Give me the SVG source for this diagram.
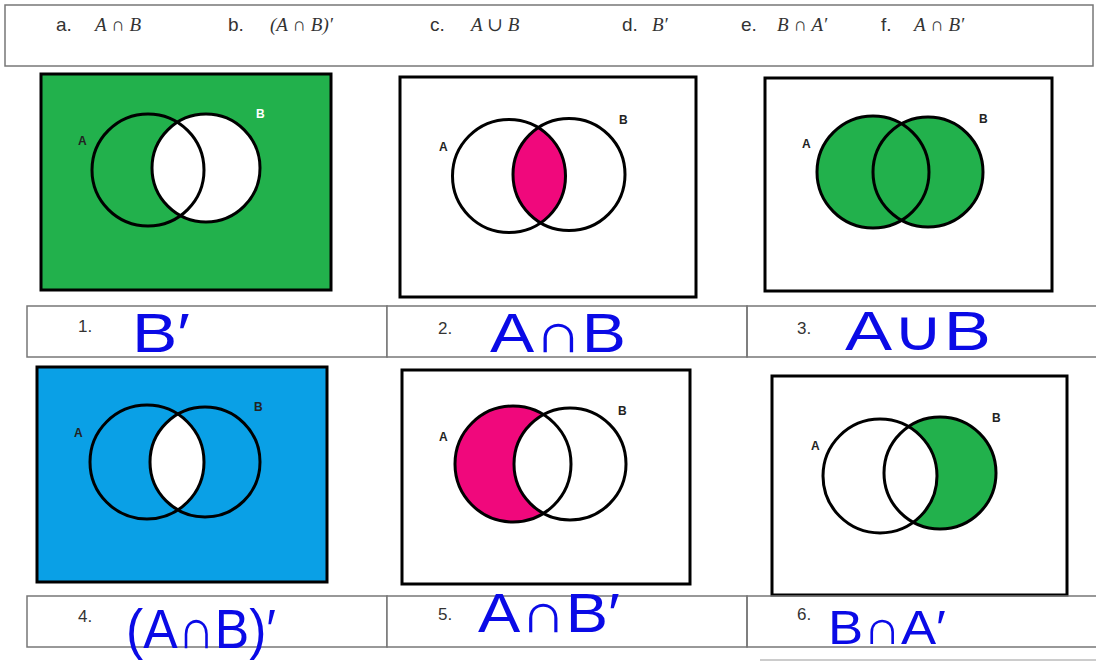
<svg xmlns="http://www.w3.org/2000/svg" width="1096" height="662" viewBox="0 0 1096 662">
<style>
.hdr{font-family:"Liberation Sans","DejaVu Sans",sans-serif;font-size:19px;fill:#333}
.math{font-family:"Liberation Serif","DejaVu Serif",serif;font-style:italic;font-size:19px;fill:#333}
.num{font-family:"Liberation Sans","DejaVu Sans",sans-serif;font-size:17px;fill:#333}
.hand{font-family:"Liberation Sans","DejaVu Sans",sans-serif;font-size:56px;fill:#0a0ae6}
.frame{fill:#fff;stroke:#000;stroke-width:3}
.ring{fill:none;stroke:#000;stroke-width:3}
.lbl{font-family:"Liberation Sans","DejaVu Sans",sans-serif;font-size:12px;font-weight:bold;fill:#222}
.cell{fill:#fff;stroke:#777;stroke-width:1.5}
</style>
<defs>
<clipPath id="cA2"><circle cx="509" cy="176" r="56.5"/></clipPath>
<clipPath id="cA4"><circle cx="147" cy="462" r="57"/></clipPath>
</defs>
<rect width="1096" height="662" fill="#fff"/>
<g id="header">
<rect x="5" y="5" width="1088" height="61" fill="#fff" stroke="#777" stroke-width="1.5"/>
<text class="hdr" x="56" y="31">a.</text><text class="math" x="95" y="31">A ∩ B</text>
<text class="hdr" x="228" y="31">b.</text><text class="math" x="270" y="31">(A ∩ B)′</text>
<text class="hdr" x="430" y="31">c.</text><text class="math" x="471" y="31">A ∪ B</text>
<text class="hdr" x="622" y="31">d.</text><text class="math" x="652" y="31">B′</text>
<text class="hdr" x="741" y="31">e.</text><text class="math" x="777" y="31">B ∩ A′</text>
<text class="hdr" x="881" y="31">f.</text><text class="math" x="914" y="31">A ∩ B′</text>
</g>
<g id="panel1">
<rect x="41" y="74" width="290" height="216" fill="#22b14c" stroke="#000" stroke-width="3"/>
<circle cx="206" cy="168" r="54" fill="#fff"/>
<circle class="ring" cx="148" cy="170" r="56"/>
<circle class="ring" cx="206" cy="168" r="54"/>
<text class="lbl" x="78" y="145">A</text>
<text class="lbl" x="256" y="118" style="fill:#fff">B</text>
</g>
<g id="panel2">
<rect class="frame" x="400" y="77" width="296" height="220"/>
<circle cx="569" cy="174.5" r="56" fill="#f0087c" clip-path="url(#cA2)"/>
<circle class="ring" cx="509" cy="176" r="56.5"/>
<circle class="ring" cx="569" cy="174.5" r="56"/>
<text class="lbl" x="439" y="151">A</text>
<text class="lbl" x="619" y="124">B</text>
</g>
<g id="panel3">
<rect class="frame" x="765" y="78" width="287" height="213"/>
<circle cx="873" cy="172" r="56" fill="#22b14c"/>
<circle cx="928" cy="172" r="55" fill="#22b14c"/>
<circle class="ring" cx="873" cy="172" r="56"/>
<circle class="ring" cx="928" cy="172" r="55"/>
<text class="lbl" x="802" y="148">A</text>
<text class="lbl" x="979" y="123">B</text>
</g>
<g id="panel4">
<rect x="37" y="367" width="290" height="215" fill="#0aa0e6" stroke="#000" stroke-width="3"/>
<circle cx="205" cy="462" r="55" fill="#fff" clip-path="url(#cA4)"/>
<circle class="ring" cx="147" cy="462" r="57"/>
<circle class="ring" cx="205" cy="462" r="55"/>
<text class="lbl" x="74" y="437">A</text>
<text class="lbl" x="254" y="411">B</text>
</g>
<g id="panel5">
<rect class="frame" x="402" y="370" width="288" height="214"/>
<circle cx="513" cy="464" r="58" fill="#f0087c"/>
<circle cx="570" cy="464" r="56" fill="#fff"/>
<circle class="ring" cx="513" cy="464" r="58"/>
<circle class="ring" cx="570" cy="464" r="56"/>
<text class="lbl" x="439" y="441">A</text>
<text class="lbl" x="618" y="415">B</text>
</g>
<g id="panel6">
<rect class="frame" x="772" y="376" width="295" height="219"/>
<circle cx="940" cy="473" r="56" fill="#22b14c"/>
<circle cx="880" cy="476" r="57" fill="#fff"/>
<circle class="ring" cx="880" cy="476" r="57"/>
<circle class="ring" cx="940" cy="473" r="56"/>
<text class="lbl" x="811" y="450">A</text>
<text class="lbl" x="992" y="422">B</text>
</g>
<g id="answers1">
<rect class="cell" x="27" y="306" width="360" height="51"/>
<rect class="cell" x="387" y="306" width="360" height="51"/>
<path d="M1097 306 H747 V357 H1097" fill="none" stroke="#777" stroke-width="1.5"/>
<text class="num" x="78" y="332">1.</text>
<text class="num" x="438" y="334">2.</text>
<text class="num" x="797" y="334">3.</text>
<text class="hand" x="132" y="352" textLength="58" lengthAdjust="spacingAndGlyphs">B′</text>
<text class="hand" x="490" y="352" textLength="136" lengthAdjust="spacingAndGlyphs">A∩B</text>
<text class="hand" x="845" y="350" textLength="146" lengthAdjust="spacingAndGlyphs">A∪B</text>
</g>
<g id="answers2">
<rect class="cell" x="27" y="596" width="360" height="51"/>
<rect class="cell" x="387" y="596" width="360" height="51"/>
<path d="M1097 596 H747 V647 H1097" fill="none" stroke="#777" stroke-width="1.5"/>
<text class="num" x="78" y="622">4.</text>
<text class="num" x="438" y="620">5.</text>
<text class="num" x="797" y="620">6.</text>
<text class="hand" x="126" y="648" textLength="150" lengthAdjust="spacingAndGlyphs">(A∩B)′</text>
<text class="hand" x="478" y="632" textLength="142" lengthAdjust="spacingAndGlyphs">A∩B′</text>
<text class="hand" x="828" y="644" textLength="118" lengthAdjust="spacingAndGlyphs" style="font-size:48px">B∩A′</text>
</g>
<line x1="760" y1="660" x2="1096" y2="660" stroke="#ccc" stroke-width="2"/>
</svg>
